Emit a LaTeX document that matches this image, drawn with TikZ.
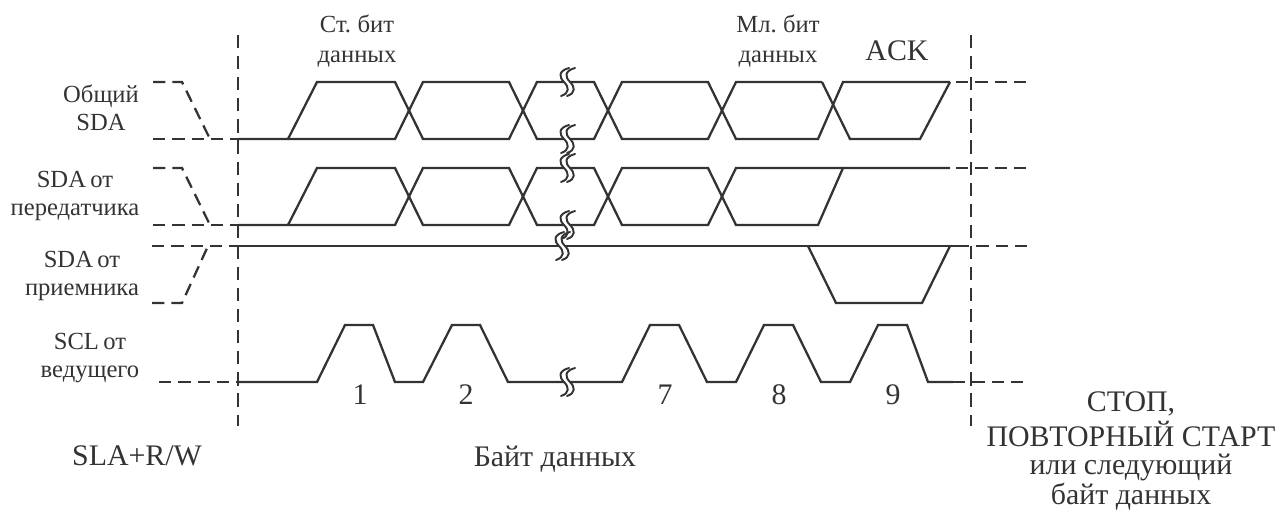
\documentclass[tikz,border=0pt]{standalone}
\usepackage{fontspec}
\setmainfont{Liberation Serif}
\definecolor{inkgray}{HTML}{333333}
\newcommand{\tightfont}{\fontsize{14}{14}\selectfont\spaceskip=0.18em\relax}
\tikzset{
  wave/.style={line width=1.3pt, draw=inkgray, line join=miter},
  idle/.style={line width=1.3pt, draw=inkgray, dash pattern=on 7pt off 4pt},
  marker/.style={line width=1.3pt, draw=inkgray, dash pattern=on 7.5pt off 4.5pt},
  lab/.style={font=\tightfont, text=inkgray, inner sep=0pt, align=center},
  biglab/.style={font=\fontsize{17}{17}\selectfont, text=inkgray, inner sep=0pt, align=center},
  breakmark/.pic={
    \fill[white] (2,-14) .. controls (-9,-11) and (-8,-5) .. (-3,0) .. controls (2,5) and (3,11) .. (-6,14)
      -- (0,14) .. controls (9,11) and (8,5) .. (3,0) .. controls (-2,-5) and (-3,-11) .. (8,-14) -- cycle;
    \draw[inkgray, line width=1.1pt, line cap=round] (2,-14) .. controls (-9,-11) and (-8,-5) .. (-3,0) .. controls (2,5) and (3,11) .. (-6,14);
    \draw[inkgray, line width=1.1pt, line cap=round] (8,-14) .. controls (-3,-11) and (-2,-5) .. (3,0) .. controls (8,5) and (9,11) .. (0,14);
  }
}
\begin{document}
\begin{tikzpicture}[x=0.02cm, y=-0.02cm]
  \useasboundingbox (0,0) rectangle (1280,511);
  % boundaries
  \draw[marker] (238,35) -- (238,426);
  \draw[marker] (971,35) -- (971,426);
  % dashed lead-in and lead-out
  \foreach \hi/\lo in {82/139,168/225} {
    \draw[idle] (153,\hi) -- (182,\hi) -- (210,\lo);
    \draw[idle] (153,\lo) -- (238,\lo);
    \draw[idle] (956,\hi) -- (1028,\hi);
  }
  \draw[idle] (152,303) -- (182,303) -- (208,246);
  \draw[idle] (152,246) -- (238,246);
  \draw[idle] (957,246) -- (1028,246);
  \draw[idle] (159,382) -- (238,382);
  \draw[idle] (953,382) -- (1028,382);
  % two SDA lines with the same data bits
  \foreach \hi/\lo/\last in {82/139/822,168/225/843} {
    \draw[wave] (238,\lo) -- (395,\lo) -- (423,\hi) -- (509,\hi) -- (537,\lo) -- (594,\lo) -- (622,\hi)
      -- (708,\hi) -- (736,\lo) -- (818,\lo) -- (843,\hi) -- (950,\hi);
    \draw[wave] (288,\lo) -- (317,\hi) -- (395,\hi) -- (423,\lo) -- (509,\lo) -- (537,\hi) -- (594,\hi)
      -- (622,\lo) -- (708,\lo) -- (736,\hi) -- (\last,\hi);
  }
  % ACK on the common line
  \draw[wave] (822,82) -- (850,139) -- (920,139) -- (950,82);
  % SDA from the receiver
  \draw[wave] (238,246) -- (957,246);
  \draw[wave] (808,246) -- (836,303) -- (922,303) -- (950,246);
  % SCL
  \draw[wave] (238,382) -- (317,382) -- (345,325) -- (373,325) -- (395,382) -- (423,382) -- (452,325)
    -- (480,325) -- (508,382) -- (622,382) -- (650,325) -- (679,325) -- (707,382) -- (736,382)
    -- (764,325) -- (793,325) -- (821,382) -- (850,382) -- (878,325) -- (907,325) -- (928,382) -- (953,382);
  % breaks
  \foreach \y in {82,139,168,225,382} {
    \pic at (567,\y) {breakmark};
  }
  \pic at (562,246) {breakmark};
  % signal names
  \node[lab] (sdaall) at (101,108) {Общий\\[2pt]SDA};
  \node[lab] (sdatx) at (75,196) {SDA от\\[2pt]передатчика};
  \node[lab] (sdarx) at (82,276) {SDA от\\[2pt]приемника};
  \node[lab] (sclms) at (90,358) {SCL от\\[2pt]ведущего};
  % bit labels
  \node[lab] (msb) at (357,41) {Ст. бит\\[3.5pt]данных};
  \node[lab] (lsb) at (778,41) {Мл. бит\\[3.5pt]данных};
  \node[biglab] (ack) at (897,51) {ACK};
  \foreach \x/\n in {360/1,466/2,665/7,779/8,893/9} {
    \node[biglab] (bit\n) at (\x,395) {\n};
  }
  % phases
  \node[biglab] (addr) at (137,456) {SLA+R/W};
  \node[biglab] (databyte) at (555,459) {Байт данных};
  \node[biglab] (stop) at (1131,404) {СТОП,};
  \node[biglab] (restart) at (1131,434) {ПОВТОРНЫЙ СТАРТ};
  \node[biglab] (nextone) at (1131,467) {или следующий};
  \node[biglab] (nextbyte) at (1131,497) {байт данных};
\end{tikzpicture}
\end{document}
